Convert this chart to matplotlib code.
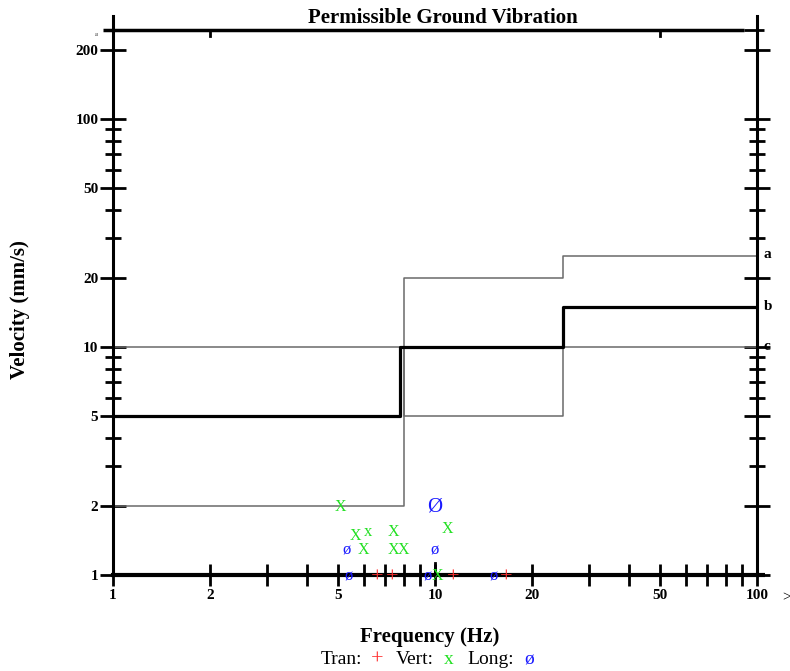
import matplotlib
matplotlib.use("Agg")
import matplotlib.pyplot as plt
from matplotlib.ticker import FixedLocator, NullFormatter, FixedFormatter

plt.rcParams['font.family'] = ['Liberation Serif', 'DejaVu Serif']

# limit lines (frequency Hz, velocity mm/s)
line_a_f = [1, 8, 8, 25, 25, 100]
line_a_v = [2, 2, 20, 20, 25, 25]
line_b_f = [1, 7.8, 7.8, 25, 25, 100]
line_b_v = [5, 5, 10, 10, 15, 15]
line_c_f = [1, 8, 8, 25, 25, 100]
line_c_v = [10, 10, 5, 5, 10, 10]

# measured events
tran_f = [6.6, 7.35, 11.4, 16.6]
tran_v = [1.0, 1.0, 1.0, 1.0]
tran_glyph = ['+', '+', '+', '+']

vert_f = [5.1, 5.65, 6.2, 7.4, 10.9, 6.0, 7.4, 7.95, 10.2]
vert_v = [2.02, 1.51, 1.56, 1.57, 1.62, 1.30, 1.30, 1.30, 1.0]
vert_glyph = ['X', 'X', 'x', 'X', 'X', 'X', 'X', 'X', 'X']

long_f = [10.0, 5.33, 10.0, 5.4, 9.5, 15.2]
long_v = [2.02, 1.30, 1.30, 1.0, 1.0, 1.0]
long_glyph = ['Ø', 'ø', 'ø', 'ø', 'ø', 'ø']

x_major = [1, 2, 5, 10, 20, 50, 100]
x_minor = [3, 4, 6, 7, 8, 9, 30, 40, 60, 70, 80, 90]
y_major = [1, 2, 5, 10, 20, 50, 100, 200]
y_minor = [3, 4, 6, 7, 8, 9, 30, 40, 60, 70, 80, 90]

W, H = 790, 671
fig = plt.figure(figsize=(W / 100, H / 100), dpi=100)
ax = fig.add_axes([113 / W, 1 - 575 / H, 644 / W, 559 / H])
ax.set_xscale('log')
ax.set_yscale('log')
ax.set_xlim(1, 100)
ax.set_ylim(1, 10 ** (559 / 228))

gray = '#6a6a6a'
ax.plot(line_a_f, line_a_v, color=gray, lw=1.1)
ax.plot(line_c_f, line_c_v, color=gray, lw=1.1)
ax.plot(line_b_f, line_b_v, color='black', lw=2.3)

bold = dict(fontweight='bold', fontsize=11)
ax.text(105, 25.5, 'a', ha='left', va='center', **bold)
ax.text(105, 15, 'b', ha='left', va='center', **bold)
ax.text(105, 10, 'c', ha='left', va='center', **bold)

# measured points drawn as characters
for f, v, g in zip(tran_f, tran_v, tran_glyph):
    ax.annotate(g, (f, v), xytext=(0, -2.5), textcoords='offset points',
                color='#ff3030', fontsize=16, ha='center', va='center')
for f, v, g in zip(vert_f, vert_v, vert_glyph):
    ax.annotate(g, (f, v), xytext=(0, -1), textcoords='offset points',
                color='#22e022', fontsize=11.5 if g == 'X' else 12,
                ha='center', va='center')
for f, v, g in zip(long_f, long_v, long_glyph):
    ax.annotate(g, (f, v), xytext=(0, -1), textcoords='offset points',
                color='#1a1aff', fontsize=15 if g == 'Ø' else 12,
                ha='center', va='center')

# axes frame
for s in ('left', 'right'):
    ax.spines[s].set_linewidth(2.2)
ax.spines['bottom'].set_linewidth(3)
ax.spines['top'].set_visible(False)

ax.xaxis.set_major_locator(FixedLocator(x_major))
ax.xaxis.set_minor_locator(FixedLocator(x_minor))
ax.xaxis.set_major_formatter(FixedFormatter([str(v) for v in x_major]))
ax.xaxis.set_minor_formatter(NullFormatter())
ax.yaxis.set_major_locator(FixedLocator(y_major))
ax.yaxis.set_minor_locator(FixedLocator(y_minor))
ax.yaxis.set_major_formatter(FixedFormatter([str(v) for v in y_major]))
ax.yaxis.set_minor_formatter(NullFormatter())

ax.xaxis.set_ticks_position('bottom')
ax.yaxis.set_ticks_position('both')
ax.tick_params(axis='x', which='both', direction='inout', length=16, width=2,
               pad=2, labelsize=11)
ax.tick_params(axis='y', which='major', direction='inout', length=19, width=2,
               pad=1, labelsize=11, labelleft=True, labelright=False)
ax.tick_params(axis='y', which='minor', direction='inout', length=11, width=2)
for lab in ax.get_xticklabels() + ax.get_yticklabels():
    lab.set_fontweight('bold')

# top frame line with its small ticks
top_y = 1 - 14 / 559
ax.plot([-10 / 644, 631 / 644], [top_y, top_y], transform=ax.transAxes,
        color='black', lw=2.5, clip_on=False, solid_capstyle='butt')
ax.plot([631 / 644, 651 / 644], [top_y, top_y], transform=ax.transAxes,
        color='black', lw=2, clip_on=False, solid_capstyle='butt')
xt = ax.get_xaxis_transform()
for xv in (2, 50):
    ax.plot([xv, xv], [top_y, top_y - 6 / 559], transform=xt, color='black',
            lw=2, clip_on=False)
ax.plot([10, 10], [0, 12 / 559], transform=xt, color='black', lw=2)
ax.plot([1, 1 + 8 / 644], [0, 0], transform=ax.transAxes, color='black',
        lw=3, clip_on=False, solid_capstyle='butt')

fig.text(97 / W, 1 - 35 / H, '250', fontsize=2, ha='center', va='center')
fig.text(782 / W, 1 - 598 / H, '>', fontsize=11, ha='left', va='center')

fig.text(443 / W, 1 - 18 / H, 'Permissible Ground Vibration', fontsize=15,
         fontweight='bold', ha='center', va='center')
fig.text(20 / W, 1 - 310 / H, 'Velocity (mm/s)', fontsize=15,
         fontweight='bold', rotation=90, ha='center', va='center')
fig.text(430 / W, 1 - 637 / H, 'Frequency (Hz)', fontsize=15,
         fontweight='bold', ha='center', va='center')

# legend line
ly = 1 - 660 / H
fig.text(321 / W, ly, 'Tran:', fontsize=14, ha='left', va='center')
fig.text(377 / W, ly, '+', fontsize=16, color='#ff3030', ha='center', va='center')
fig.text(396 / W, ly, 'Vert:', fontsize=14, ha='left', va='center')
fig.text(449 / W, ly, 'x', fontsize=14, color='#22e022', ha='center', va='center')
fig.text(467 / W, ly, 'Long:', fontsize=14, ha='left', va='center')
fig.text(529 / W, ly, 'ø', fontsize=14, color='#1a1aff', ha='center', va='center')

fig.savefig('out.png', dpi=100)
